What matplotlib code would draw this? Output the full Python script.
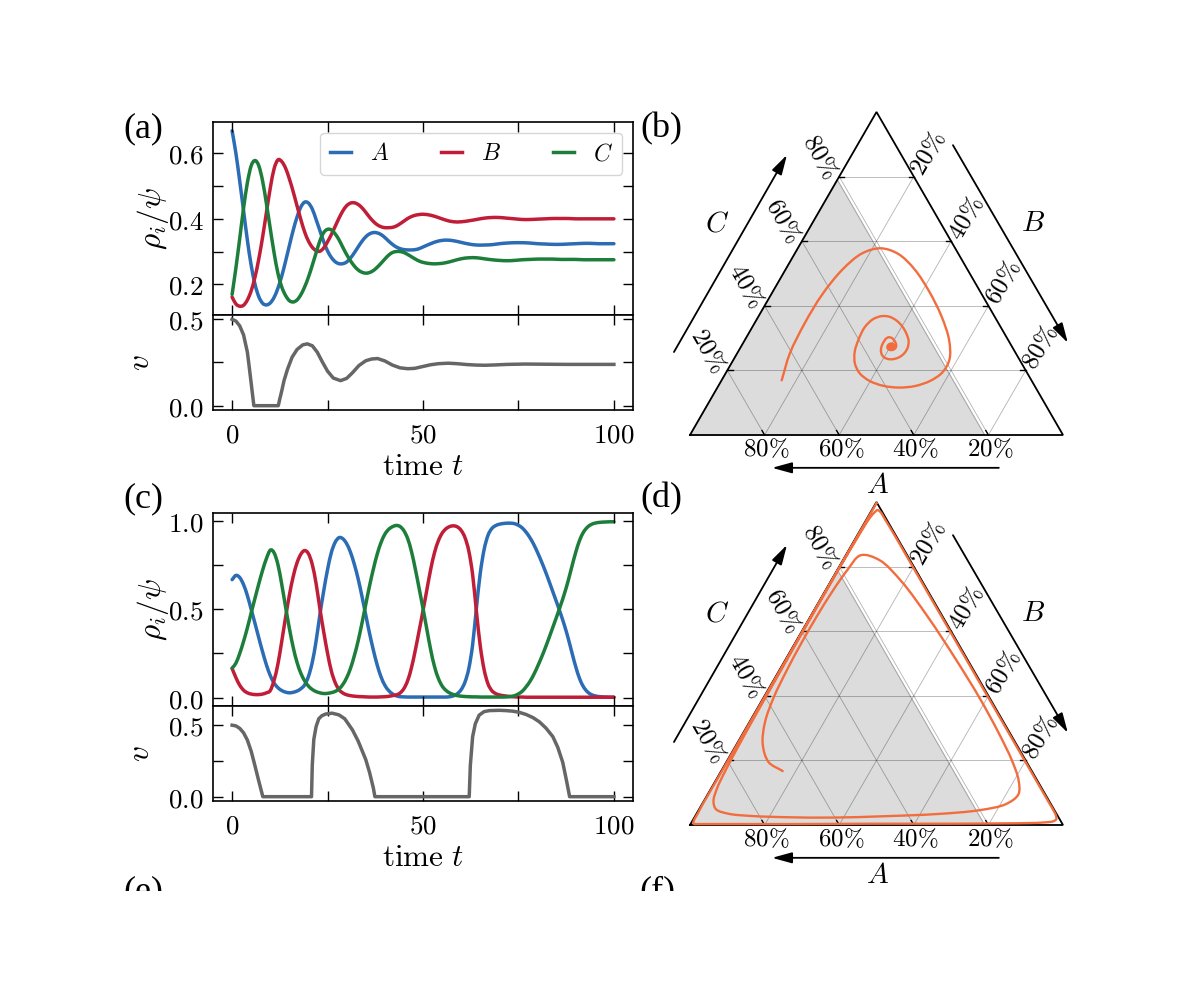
import matplotlib
matplotlib.use("Agg")
import matplotlib.pyplot as plt
import numpy as np
from matplotlib.patches import Polygon, FancyArrowPatch, Rectangle, PathPatch
from matplotlib.path import Path

plt.rcParams["mathtext.fontset"] = "cm"
plt.rcParams["font.family"] = ["DejaVu Serif"]

# ---------------- data: panel (a) / (b) ----------------
t_a = list(range(0, 51)) + list(range(52, 101, 2))
A_a = [0.669, 0.600, 0.515, 0.425, 0.335, 0.258, 0.200, 0.162, 0.142, 0.137,
       0.143, 0.160, 0.188, 0.225, 0.270, 0.318, 0.365, 0.405, 0.436, 0.451,
       0.448, 0.430, 0.398, 0.364, 0.330, 0.302, 0.282, 0.269, 0.263, 0.263,
       0.268, 0.280, 0.296, 0.314, 0.331, 0.345, 0.354, 0.358, 0.357, 0.352,
       0.343, 0.332, 0.322, 0.314, 0.309, 0.306, 0.305, 0.305, 0.306, 0.309,
       0.314,
       0.324, 0.332, 0.335, 0.333, 0.328, 0.323, 0.320, 0.320, 0.321, 0.324,
       0.326, 0.327, 0.327, 0.326, 0.324, 0.323, 0.322, 0.322, 0.323, 0.324,
       0.325, 0.325, 0.324, 0.324, 0.324]
B_a = [0.161, 0.140, 0.133, 0.136, 0.152, 0.180, 0.222, 0.278, 0.345, 0.420,
       0.494, 0.553, 0.580, 0.575, 0.555, 0.522, 0.483, 0.440, 0.398, 0.360,
       0.332, 0.313, 0.303, 0.301, 0.311, 0.330, 0.352, 0.377, 0.402, 0.424,
       0.440, 0.448, 0.449, 0.444, 0.434, 0.420, 0.405, 0.392, 0.382, 0.376,
       0.373, 0.373, 0.374, 0.378, 0.385, 0.393, 0.401, 0.407, 0.411, 0.413,
       0.414,
       0.411, 0.404, 0.396, 0.391, 0.391, 0.394, 0.398, 0.402, 0.404, 0.404,
       0.402, 0.400, 0.398, 0.398, 0.399, 0.400, 0.401, 0.401, 0.401, 0.400,
       0.400, 0.400, 0.400, 0.400, 0.400]
C_a = [0.169, 0.250, 0.340, 0.432, 0.510, 0.562, 0.578, 0.562, 0.515, 0.446,
       0.370, 0.296, 0.234, 0.192, 0.166, 0.150, 0.146, 0.152, 0.168, 0.192,
       0.222, 0.258, 0.296, 0.333, 0.358, 0.368, 0.366, 0.354, 0.336, 0.313,
       0.291, 0.272, 0.256, 0.244, 0.237, 0.234, 0.236, 0.242, 0.252, 0.264,
       0.277, 0.289, 0.297, 0.300, 0.300, 0.297, 0.291, 0.284, 0.277, 0.271,
       0.267,
       0.263, 0.263, 0.266, 0.272, 0.278, 0.281, 0.281, 0.278, 0.275, 0.273,
       0.272, 0.273, 0.275, 0.276, 0.277, 0.277, 0.277, 0.276, 0.276, 0.276,
       0.275, 0.275, 0.275, 0.275, 0.275]
tv_a = [0, 1, 2, 3, 4, 4.4, 5, 5.7, 12.1, 12.5, 13, 13.6, 14.5, 15.7, 17, 18.5,
        19.7, 21, 22.3, 23.6, 25, 26.5, 28.4, 30, 31.5, 33.2, 35, 36.5, 38.1,
        40, 42, 44, 46, 47.8, 50, 52, 54, 56.6, 59, 61.5, 64, 66.3, 69, 72,
        76.8, 82, 88, 100]
v_a = [0.5, 0.49, 0.462, 0.41, 0.31, 0.24, 0.13, 0.0, 0.0, 0.04, 0.085, 0.145,
       0.21, 0.28, 0.325, 0.352, 0.358, 0.347, 0.31, 0.255, 0.2, 0.16, 0.145,
       0.158, 0.19, 0.232, 0.26, 0.27, 0.273, 0.259, 0.235, 0.219, 0.214,
       0.216, 0.227, 0.237, 0.243, 0.246, 0.243, 0.238, 0.235, 0.234, 0.236,
       0.239, 0.241, 0.240, 0.239, 0.239]

# ---------------- data: panel (c) / (d) ----------------
t_c = list(range(0, 101))
A_c = [0.668, 0.692, 0.680, 0.640, 0.578, 0.500, 0.420, 0.338, 0.258, 0.185,
       0.125, 0.082, 0.056, 0.040, 0.031, 0.027, 0.030, 0.037, 0.050, 0.072,
       0.120, 0.200, 0.320, 0.470, 0.605, 0.725, 0.822, 0.880, 0.906, 0.900,
       0.872, 0.824, 0.756, 0.674, 0.575, 0.469, 0.364, 0.269, 0.185, 0.118,
       0.070, 0.040, 0.021, 0.010, 0.005, 0.004, 0.003, 0.003, 0.003, 0.003,
       0.003, 0.003, 0.003, 0.003, 0.003, 0.003, 0.003, 0.005, 0.010, 0.022,
       0.045, 0.088, 0.165, 0.300, 0.510, 0.705, 0.838, 0.918, 0.957, 0.974,
       0.982, 0.986, 0.988, 0.988, 0.985, 0.976, 0.961, 0.937, 0.906, 0.868,
       0.822, 0.772, 0.718, 0.660, 0.600, 0.540, 0.478, 0.412, 0.338, 0.255,
       0.175, 0.108, 0.062, 0.034, 0.018, 0.010, 0.006, 0.004, 0.003, 0.002,
       0.002]
B_c = [0.165, 0.113, 0.070, 0.042, 0.027, 0.020, 0.017, 0.017, 0.020, 0.027,
       0.040, 0.098, 0.190, 0.318, 0.454, 0.580, 0.685, 0.763, 0.812, 0.833,
       0.815, 0.754, 0.646, 0.503, 0.372, 0.251, 0.150, 0.085, 0.045, 0.026,
       0.016, 0.011, 0.008, 0.006, 0.005, 0.004, 0.003, 0.003, 0.003, 0.004,
       0.005, 0.007, 0.011, 0.015, 0.026, 0.051, 0.097, 0.171, 0.270, 0.380,
       0.492, 0.609, 0.725, 0.820, 0.887, 0.931, 0.956, 0.969, 0.973, 0.967,
       0.947, 0.906, 0.830, 0.696, 0.486, 0.292, 0.159, 0.079, 0.040, 0.023,
       0.015, 0.011, 0.008, 0.006, 0.004, 0.003, 0.003, 0.002, 0.002, 0.002,
       0.002, 0.002, 0.002, 0.002, 0.002, 0.002, 0.002, 0.002, 0.002, 0.002,
       0.002, 0.002, 0.002, 0.002, 0.002, 0.002, 0.002, 0.002, 0.002, 0.002,
       0.002]
C_c = [0.167, 0.195, 0.250, 0.318, 0.395, 0.480, 0.563, 0.645, 0.722, 0.788,
       0.835, 0.820, 0.754, 0.642, 0.515, 0.393, 0.285, 0.200, 0.138, 0.095,
       0.065, 0.046, 0.034, 0.027, 0.023, 0.024, 0.028, 0.035, 0.049, 0.074,
       0.112, 0.165, 0.236, 0.320, 0.420, 0.527, 0.633, 0.728, 0.812, 0.878,
       0.925, 0.953, 0.968, 0.975, 0.969, 0.945, 0.900, 0.826, 0.727, 0.617,
       0.505, 0.388, 0.272, 0.177, 0.110, 0.066, 0.041, 0.026, 0.017, 0.011,
       0.008, 0.006, 0.005, 0.004, 0.004, 0.003, 0.003, 0.003, 0.003, 0.003,
       0.003, 0.003, 0.004, 0.006, 0.011, 0.021, 0.036, 0.061, 0.091, 0.130,
       0.176, 0.226, 0.280, 0.338, 0.398, 0.458, 0.520, 0.586, 0.660, 0.743,
       0.823, 0.890, 0.936, 0.964, 0.980, 0.988, 0.992, 0.994, 0.995, 0.996,
       0.996]
tv_c = [0, 1, 2, 3, 4, 5, 6, 7, 8.05, 20.8, 21.0, 21.4, 22.0, 22.7, 23.5, 24.5,
        26.2, 28.0, 29.5, 31.5, 33.0, 34.0, 35.0, 36.0, 37.0, 37.4, 62.1, 62.4,
        63.0, 63.7, 64.7, 66.0, 67.4, 70.0, 71.7, 73.5, 75.2, 77.0, 78.8, 80.5,
        82.2, 84.0, 85.3, 86.6, 87.6, 88.4, 100]
v_c = [0.5, 0.495, 0.478, 0.447, 0.396, 0.318, 0.215, 0.108, 0.0, 0.0, 0.22,
       0.40, 0.49, 0.545, 0.566, 0.578, 0.584, 0.572, 0.545, 0.468, 0.39, 0.325,
       0.26, 0.17, 0.06, 0.0, 0.0, 0.22, 0.42, 0.51, 0.57, 0.595, 0.602, 0.604,
       0.602, 0.598, 0.59, 0.575, 0.553, 0.523, 0.48, 0.42, 0.345, 0.24, 0.11,
       0.0, 0.0]

A_threshold = 0.21          # grey region in the simplex (A above threshold)
grid_levels = [0.2, 0.4, 0.6, 0.8]
grid_labels = ["20", "40", "60", "80"]

# ---------------- styling ----------------
COL_A = "#2b6cb4"
COL_B = "#c01e38"
COL_C = "#1d7e3b"
COL_V = "#666666"
COL_T = "#f26d3d"
LW = 2.5

W, H = 1200, 988
fig = plt.figure(figsize=(12, 9.88), dpi=100)


def fx(px):
    return px / W


def fy(py):
    return 1 - py / H


def hermite_path(t, y):
    """Smooth path through the sampled points (cubic Hermite in t)."""
    t = np.asarray(t, float)
    y = np.asarray(y, float)
    n = len(t)
    m = np.empty(n)
    m[1:-1] = (y[2:] - y[:-2]) / (t[2:] - t[:-2])
    m[0] = (y[1] - y[0]) / (t[1] - t[0])
    m[-1] = (y[-1] - y[-2]) / (t[-1] - t[-2])
    verts = [(t[0], y[0])]
    codes = [Path.MOVETO]
    for i in range(n - 1):
        h = t[i + 1] - t[i]
        verts += [(t[i] + h / 3, y[i] + m[i] * h / 3),
                  (t[i + 1] - h / 3, y[i + 1] - m[i + 1] * h / 3),
                  (t[i + 1], y[i + 1])]
        codes += [Path.CURVE4] * 3
    return Path(verts, codes)


def catmull_path(x, y, alpha=0.5):
    """Centripetal Catmull-Rom path through the points (as Bezier segments)."""
    P = np.column_stack([x, y]).astype(float)
    Pe = np.vstack([2 * P[0] - P[1], P, 2 * P[-1] - P[-2]])
    verts = [tuple(P[0])]
    codes = [Path.MOVETO]
    for i in range(1, len(P)):
        p0, p1, p2, p3 = Pe[i - 1], Pe[i], Pe[i + 1], Pe[i + 2]
        d1 = max(np.hypot(*(p1 - p0)), 1e-9) ** alpha
        d2 = max(np.hypot(*(p2 - p1)), 1e-9) ** alpha
        d3 = max(np.hypot(*(p3 - p2)), 1e-9) ** alpha
        b1 = (d1 ** 2 * p2 - d2 ** 2 * p0 + (2 * d1 ** 2 + 3 * d1 * d2 + d2 ** 2) * p1) / (3 * d1 * (d1 + d2))
        b2 = (d3 ** 2 * p1 - d2 ** 2 * p3 + (2 * d3 ** 2 + 3 * d3 * d2 + d2 ** 2) * p2) / (3 * d3 * (d3 + d2))
        verts += [tuple(b1), tuple(b2), tuple(p2)]
        codes += [Path.CURVE4] * 3
    return Path(verts, codes)


def style(ax):
    ax.tick_params(direction="in", top=True, right=True, length=7, width=1.0,
                   labelsize=19.5)
    ax.tick_params(axis="y", pad=7)
    ax.tick_params(axis="x", pad=8)
    for s in ax.spines.values():
        s.set_linewidth(1.2)
    ax.set_xlim(-5, 105)


def auto_lim(*series):
    lo = min(min(s) for s in series)
    hi = max(max(s) for s in series)
    r = hi - lo
    return lo - 0.05 * r, hi + 0.05 * r


def timeseries(top, mid, bot, t, A, B, C, tv, v, yt, ytl, legend):
    ax1 = fig.add_axes([fx(213), fy(mid), fx(633) - fx(213), fy(top) - fy(mid)])
    ax2 = fig.add_axes([fx(213), fy(bot), fx(633) - fx(213), fy(mid) - fy(bot)])
    for ser, col, lab in ((A, COL_A, "$A$"), (B, COL_B, "$B$"), (C, COL_C, "$C$")):
        ax1.add_patch(PathPatch(hermite_path(t, ser), facecolor="none",
                                edgecolor=col, lw=LW, capstyle="round"))
        ax1.plot([], [], color=col, lw=LW, label=lab)
    ax2.plot(tv, v, color=COL_V, lw=LW, solid_joinstyle="round")
    for ax in (ax1, ax2):
        style(ax)
    ax1.set_ylim(*auto_lim(A, B, C))
    ax2.set_ylim(*auto_lim(v))
    ax1.set_xticks([0, 25, 50, 75, 100])
    ax1.set_xticklabels([""] * 5)
    ax2.set_xticks([0, 25, 50, 75, 100])
    ax2.set_xticklabels(["$0$", "", "$50$", "", "$100$"])
    ax1.set_yticks(yt)
    ax1.set_yticklabels(ytl)
    ax2.set_yticks([0, 0.25, 0.5])
    ax2.set_yticklabels(["$0.0$", "", "$0.5$"])
    ax1.set_ylabel(r"$\rho_i/\psi$", fontsize=22.5)
    ax1.yaxis.set_label_coords(-0.10, 0.5)
    ax2.set_ylabel("$v$", fontsize=22.5)
    ax2.yaxis.set_label_coords(-0.135, 0.5)
    ax2.set_xlabel(r"$\mathrm{time}\ t$", fontsize=22.5)
    ax2.xaxis.set_label_coords(0.5, -0.43)
    if legend:
        ax1.legend(loc="upper right", ncol=3, fontsize=17, handlelength=0.9,
                   handletextpad=0.8, columnspacing=2.2, borderaxespad=0.45,
                   framealpha=0.8, edgecolor="0.8")
    return ax1, ax2


timeseries(122, 315, 410, t_a, A_a, B_a, C_a, tv_a, v_a,
           [0.2, 0.3, 0.4, 0.5, 0.6], ["$0.2$", "", "$0.4$", "", "$0.6$"], True)
timeseries(513, 706, 801, t_c, A_c, B_c, C_c, tv_c, v_c,
           [0, 0.25, 0.5, 0.75, 1.0], ["$0.0$", "", "$0.5$", "", "$1.0$"], False)

S3 = np.sqrt(3) / 2


def txy(a, b, c):
    a = np.asarray(a, float)
    b = np.asarray(b, float)
    c = np.asarray(c, float)
    s = a + b + c
    return (b + 0.5 * c) / s, S3 * c / s


def ternary(shift, A, B, C, end_dot):
    ax = fig.add_axes([fx(640), fy(500 + shift), fx(1110) - fx(640),
                       fy(95 + shift) - fy(500 + shift)])
    ax.set_xlim(-50 / 373, 420 / 373)
    ax.set_ylim(-65 / 373, 340 / 373)
    ax.axis("off")
    a0 = A_threshold
    gx, gy = txy([1, a0, a0], [0, 1 - a0, 0], [0, 0, 1 - a0])
    ax.add_patch(Polygon(np.column_stack([gx, gy]), closed=True,
                         facecolor="#dcdcdc", edgecolor="#a8a8a8", lw=0.8,
                         zorder=1))
    for k in grid_levels:
        for (a1, b1, c1, a2, b2, c2) in [
                (1 - k, 0, k, 0, 1 - k, k),
                (k, 1 - k, 0, k, 0, 1 - k),
                (1 - k, k, 0, 0, k, 1 - k)]:
            x, y = txy([a1, a2], [b1, b2], [c1, c2])
            ax.plot(x, y, color="k", alpha=0.3, lw=0.6, zorder=2)
    ox, oy = txy([1, 0, 0, 1], [0, 1, 0, 0], [0, 0, 1, 0])
    ax.plot(ox, oy, color="k", lw=1.3, zorder=3, solid_joinstyle="miter")
    for k, lab in zip(grid_levels, grid_labels):
        x, y = txy(1 - k, 0, k)
        ax.plot([x, x + 0.014], [y, y], color="k", lw=1.0, zorder=3)
        ax.text(x - 0.051, y + 0.054, "$" + lab + r"\%$", fontsize=18,
                rotation=-60, ha="center", va="center", rotation_mode="anchor")
        x, y = txy(0, k, 1 - k)
        ax.plot([x, x - 0.014], [y, y], color="k", lw=1.0, zorder=3)
        ax.text(x + 0.040, y + 0.062, "$" + lab + r"\%$", fontsize=18,
                rotation=60, ha="center", va="center", rotation_mode="anchor")
        x, y = txy(k, 1 - k, 0)
        ax.plot([x, x - 0.007], [y, y + 0.012], color="k", lw=1.0, zorder=3)
        ax.text(x + 0.005, y - 0.038, "$" + lab + r"\%$", fontsize=18,
                ha="center", va="center")
    sty = "-|>,head_length=0.8,head_width=0.22"
    for p0, p1 in [((-0.043, 0.2225), (0.260, 0.751)),
                   ((0.705, 0.777), (1.013, 0.247)),
                   ((0.828, -0.088), (0.220, -0.088))]:
        ax.add_patch(FancyArrowPatch(p0, p1, arrowstyle=sty, mutation_scale=15,
                                     lw=1.3, color="k", shrinkA=0, shrinkB=0,
                                     zorder=3))
    ax.text(0.072, 0.568, "$C$", fontsize=21, ha="center", va="center")
    ax.text(0.920, 0.568, "$B$", fontsize=21, ha="center", va="center")
    ax.text(0.504, -0.134, "$A$", fontsize=21, ha="center", va="center")
    x, y = txy(A, B, C)
    ax.add_patch(PathPatch(catmull_path(x, y), facecolor="none",
                           edgecolor=COL_T, lw=1.7, zorder=5, clip_on=False,
                           capstyle="round", joinstyle="round"))
    if end_dot:
        ax.plot(x[-1:], y[-1:], "o", color=COL_T, ms=5, zorder=6)
    return ax


ternary(0, A_a, B_a, C_a, True)
ternary(390, A_c, B_c, C_c, False)

pl = dict(fontsize=26, family="Liberation Serif", ha="center", va="center")
fig.text(fx(143), fy(129), "(a)", **pl)
fig.text(fx(661), fy(129), "(b)", **pl)
fig.text(fx(143), fy(499), "(c)", **pl)
fig.text(fx(661), fy(499), "(d)", **pl)
pl2 = dict(fontsize=26, family="Liberation Serif", ha="center", va="top")
fig.text(fx(143), fy(875), "(e)", **pl2)
fig.text(fx(657), fy(875), "(f)", **pl2)

# the figure is cropped just below the (e)/(f) labels
fig.patches.append(Rectangle((0, 0), 1, fy(891), transform=fig.transFigure,
                             facecolor="white", edgecolor="none", zorder=100))

fig.savefig("out.png", dpi=100)
